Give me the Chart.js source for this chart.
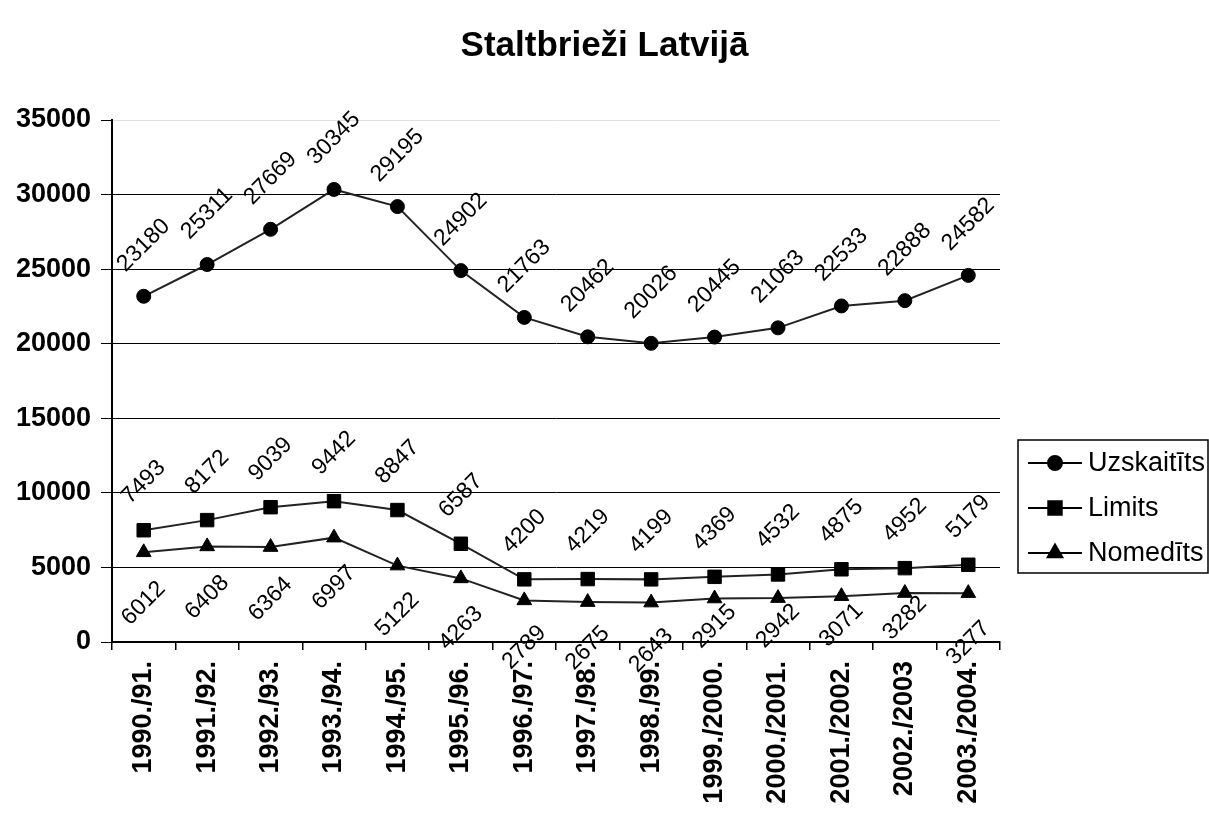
<!DOCTYPE html>
<html>
<head>
<meta charset="utf-8">
<script src="https://cdn.jsdelivr.net/npm/chart.js@4/dist/chart.umd.min.js"></script>
<style>
  html, body { margin: 0; padding: 0; background: #fff; }
  #c { display: block; }
</style>
</head>
<body>
<canvas id="c" width="1209" height="814"></canvas>
<script>
const chartTitle = 'Staltbrieži Latvijā';
const categories = ['1990./91.', '1991./92.', '1992./93.', '1993./94.', '1994./95.', '1995./96.', '1996./97.', '1997./98.', '1998./99.', '1999./2000.', '2000./2001.', '2001./2002.', '2002./2003', '2003./2004.'];
const seriesNames = ['Uzskaitīts', 'Limits', 'Nomedīts'];
const uzskaitits = [23180, 25311, 27669, 30345, 29195, 24902, 21763, 20462, 20026, 20445, 21063, 22533, 22888, 24582];
const limits = [7493, 8172, 9039, 9442, 8847, 6587, 4200, 4219, 4199, 4369, 4532, 4875, 4952, 5179];
const nomedits = [6012, 6408, 6364, 6997, 5122, 4263, 2789, 2675, 2643, 2915, 2942, 3071, 3282, 3277];
const yMin = 0, yMax = 35000, yStep = 5000;

// label placement styles (pixel offsets from the point, along y)
const labelDyUzs = 51;
const labelDyLim = 48;
const labelDyNom = [51, 51, 52, 50, 49, 50, 47, 46, 48, 28, 28, 29, 25, 50];

const FONT = "'Liberation Sans', Arial, Helvetica, sans-serif";

const titlePlugin = {
  id: 'pageTitle',
  afterDraw(chart, args, opts) {
    const ctx = chart.ctx;
    ctx.save();
    ctx.font = 'bold 35px ' + FONT;
    ctx.fillStyle = '#000';
    ctx.textAlign = 'center';
    ctx.textBaseline = 'middle';
    ctx.fillText(opts.text, chart.width / 2, opts.y);
    ctx.restore();
  }
};

const dataLabelPlugin = {
  id: 'rotLabels',
  afterDatasetsDraw(chart) {
    const ctx = chart.ctx;
    chart.data.datasets.forEach((ds, i) => {
      const meta = chart.getDatasetMeta(i);
      meta.data.forEach((pt, j) => {
        let dy = ds.labelDy;
        if (Array.isArray(dy)) dy = dy[j];
        ctx.save();
        ctx.translate(pt.x, pt.y + dy);
        ctx.rotate(-Math.PI / 4);
        ctx.font = '23px ' + FONT;
        ctx.fillStyle = '#000';
        ctx.textAlign = 'center';
        ctx.textBaseline = 'middle';
        ctx.fillText(String(ds.data[j]), 0, 0);
        ctx.restore();
      });
    });
  }
};

const boxLegendPlugin = {
  id: 'boxLegend',
  afterDraw(chart, args, opts) {
    const ctx = chart.ctx;
    ctx.save();
    ctx.strokeStyle = '#000';
    ctx.lineWidth = 1.5;
    ctx.strokeRect(opts.x, opts.y, opts.w, opts.h);
    chart.data.datasets.forEach((ds, i) => {
      const cy = opts.y + opts.firstRow + i * opts.rowGap;
      ctx.strokeStyle = '#000';
      ctx.lineWidth = 2;
      ctx.beginPath();
      ctx.moveTo(opts.x + 10, cy);
      ctx.lineTo(opts.x + 64, cy);
      ctx.stroke();
      Chart.helpers.drawPoint(ctx, {
        pointStyle: ds.pointStyle,
        radius: ds.pointRadius,
        borderWidth: 1
      }, opts.x + 37, cy);
      ctx.fillStyle = '#000';
      ctx.fill();
      ctx.font = '27px ' + FONT;
      ctx.textAlign = 'left';
      ctx.textBaseline = 'middle';
      ctx.fillText(ds.label, opts.x + 70, cy + 1);
    });
    ctx.restore();
  }
};

const lineStyle = { borderColor: '#222', borderWidth: 2, tension: 0, pointBackgroundColor: '#000', pointBorderColor: '#000', pointBorderWidth: 1, fill: false };

new Chart(document.getElementById('c'), {
  type: 'line',
  data: {
    labels: categories,
    datasets: [
      Object.assign({ label: seriesNames[0], data: uzskaitits, pointStyle: 'circle', pointRadius: 7, labelDy: -labelDyUzs }, lineStyle),
      Object.assign({ label: seriesNames[1], data: limits, pointStyle: 'rect', pointRadius: 9.5, labelDy: -labelDyLim }, lineStyle),
      Object.assign({ label: seriesNames[2], data: nomedits, pointStyle: 'triangle', pointRadius: 8.5, labelDy: labelDyNom }, lineStyle)
    ]
  },
  options: {
    responsive: false,
    animation: false,
    events: [],
    layout: { padding: { left: 0, right: 209, top: 120, bottom: 0 } },
    plugins: {
      legend: { display: false },
      tooltip: { enabled: false },
      title: { display: false },
      pageTitle: { text: chartTitle, y: 46 },
      boxLegend: { x: 1018, y: 440, w: 190, h: 133, firstRow: 23, rowGap: 45 }
    },
    scales: {
      x: {
        type: 'category',
        offset: true,
        afterFit(scale) { scale.height = 172; },
        grid: { display: true, drawOnChartArea: false, drawTicks: true, tickLength: 8, offset: true, color: '#000', tickColor: '#000', lineWidth: 1.5 },
        border: { display: true, color: '#000', width: 2 },
        ticks: {
          autoSkip: false,
          minRotation: 90,
          maxRotation: 90,
          padding: 11,
          color: '#000',
          font: { family: FONT, size: 27, weight: 'bold' }
        }
      },
      y: {
        min: yMin,
        max: yMax,
        afterFit(scale) { scale.width = 112; },
        grid: {
          drawTicks: true,
          tickLength: 11,
          color: (c) => (c.tick && c.tick.value === yMax ? '#e0e0e0' : '#000'),
          tickColor: '#000',
          lineWidth: 1
        },
        border: { display: true, color: '#000', width: 2 },
        ticks: {
          stepSize: yStep,
          padding: 10,
          color: '#000',
          callback: (v) => String(v),
          font: { family: FONT, size: 27, weight: 'bold' }
        }
      }
    }
  },
  plugins: [titlePlugin, dataLabelPlugin, boxLegendPlugin]
});
</script>
</body>
</html>
